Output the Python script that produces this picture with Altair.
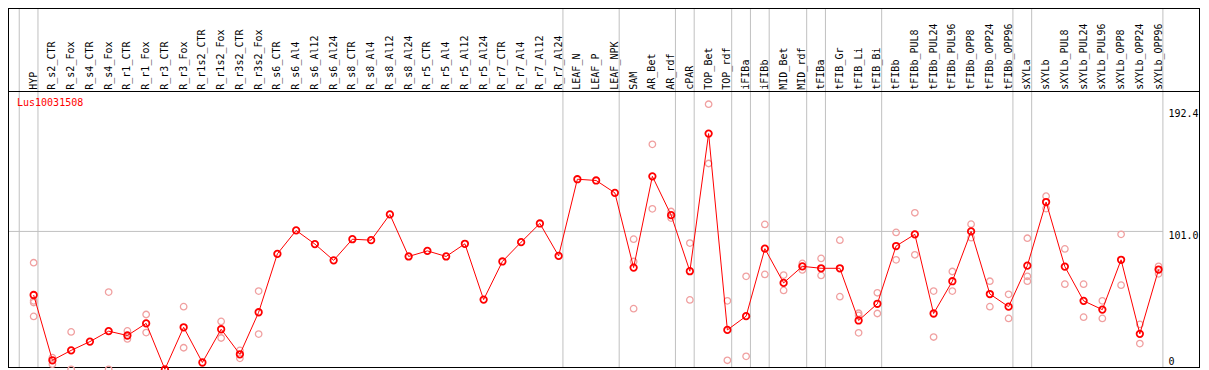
import altair as alt
import pandas as pd

gene = "Lus10031508"

categories = [
    "HYP", "R_s2_CTR", "R_s2_Fox", "R_s4_CTR", "R_s4_Fox", "R_r1_CTR", "R_r1_Fox",
    "R_r3_CTR", "R_r3_Fox", "R_r1s2_CTR", "R_r1s2_Fox", "R_r3s2_CTR", "R_r3s2_Fox",
    "R_s6_CTR", "R_s6_Al4", "R_s6_Al12", "R_s6_Al24", "R_s8_CTR", "R_s8_Al4",
    "R_s8_Al12", "R_s8_Al24", "R_r5_CTR", "R_r5_Al4", "R_r5_Al12", "R_r5_Al24",
    "R_r7_CTR", "R_r7_Al4", "R_r7_Al12", "R_r7_Al24", "LEAF_N", "LEAF_P", "LEAF_NPK",
    "SAM", "AR_Bet", "AR_rdf", "cPAR", "TOP_Bet", "TOP_rdf", "iFIBa", "iFIBb",
    "MID_Bet", "MID_rdf", "tFIBa", "tFIB_Gr", "tFIB_Li", "tFIB_Bi", "tFIBb",
    "tFIBb_PUL8", "tFIBb_PUL24", "tFIBb_PUL96", "tFIBb_OPP8", "tFIBb_OPP24",
    "tFIBb_OPP96", "sXYLa", "sXYLb", "sXYLb_PUL8", "sXYLb_PUL24", "sXYLb_PUL96",
    "sXYLb_OPP8", "sXYLb_OPP24", "sXYLb_OPP96",
]

means = [
    55.3, 8.4, 15.5, 21.8, 29.3, 26.2, 34.9, 1.9, 32.1, 6.8, 30.7, 12.7, 42.9,
    84.9, 101.7, 91.9, 80.2, 95.4, 94.7, 113.2, 83.0, 87.0, 83.0, 92.1, 52.0,
    79.4, 93.3, 106.7, 83.4, 138.5, 137.6, 128.7,
    75.0, 140.6, 112.7, 72.4, 171.3, 30.2, 40.1, 88.6, 64.0, 75.9, 74.5, 74.5,
    37.0, 49.0, 90.5, 98.9, 42.0, 65.2, 101.0, 56.0, 46.9, 76.4, 122.1, 75.7,
    51.1, 44.8, 80.6, 27.4, 73.6,
]

N = None
rep_a = [78.5, 10.3, 28.8, N, 57.4, 29.5, 41.3, N, 46.9, N, 36.3, 15.5, 58.1,
         N, N, N, N, N, N, N, N, N, N, N, N, N, N, N, N, N, N, N,
         95.4, 163.6, 115.3, 92.6, 192.4, 51.1, 68.7, 106.0, 69.6, 78.0, 81.6, 94.7,
         42.2, 56.9, 100.3, 114.4, 58.1, 72.2, 106.2, 65.2, 55.8, 96.1, 126.3, 88.4,
         63.1, 51.1, 98.9, 34.2, 75.9]
rep_b = [51.1, 5.6, 1.9, N, 1.9, 23.7, 28.3, N, 17.4, N, 24.4, 9.8, 27.2,
         N, N, N, N, N, N, N, N, N, N, N, N, N, N, N, N, N, N, N,
         79.4, 117.2, 110.6, 51.8, 149.8, 8.4, 11.2, 70.1, 58.6, 73.3, 69.4, 54.1,
         40.6, 42.0, 80.6, 84.2, 25.1, 58.1, 96.5, 46.9, 38.5, 68.7, 117.4, 63.1,
         39.4, 38.5, 62.4, 20.4, 70.5]
rep_c = [49.9] + [N] * 31 + [45.5] + [N] * 11 + [28.1] + [N] * 8 + [65.2] + [N] * 7
rep_d = [39.9] + [N] * 60

# a separator line is drawn after each of these categories (and before the first)
group_ends = ["HYP", "R_r7_Al24", "LEAF_NPK", "AR_rdf", "cPAR", "TOP_rdf", "iFIBa",
              "iFIBb", "MID_rdf", "tFIBa", "tFIB_Bi", "tFIBb_OPP96", "sXYLa",
              "sXYLb_OPP96"]

tick_labels = ["192.4", "101.0", "0"]
tick_values = [192.4, 101.0, 0.0]

# ---------------------------------------------------------------- tables
W, H = 1193, 362
FONT = "DejaVu Sans Mono"
RED = "#ff0000"
PINK = "#f0a0a0"
GRID = "#c0c0c0"

df = pd.DataFrame({"i": range(len(categories)), "cat": categories, "mean": means})
reps = []
for lst in (rep_a, rep_b, rep_c, rep_d):
    for i, v in enumerate(lst):
        if v is not None:
            reps.append({"i": i, "value": v})
df_rep = pd.DataFrame(reps)

sep_idx = [-1] + [categories.index(c) for c in group_ends]
df_sep = pd.DataFrame({"pos": [k + 0.23 for k in sep_idx]})

xs = alt.Scale(domain=[-1.3684, 62.262], nice=False, zero=False)
ys = alt.Scale(domain=[1.408, 261.55], nice=False, zero=False)

one = pd.DataFrame({"k": [0]})

def hline(y, x1, x2, color="black"):
    return alt.Chart(one).mark_rule(color=color, strokeWidth=1).encode(
        x=alt.value(x1), x2=alt.value(x2), y=alt.value(y))

def vline(x, y1, y2, color="black"):
    return alt.Chart(one).mark_rule(color=color, strokeWidth=1).encode(
        x=alt.value(x), y=alt.value(y1), y2=alt.value(y2))

seps = alt.Chart(df_sep).mark_rule(color=GRID, strokeWidth=1).encode(
    x=alt.X("pos:Q", scale=xs, axis=None), y=alt.value(0), y2=alt.value(360))

grid101 = alt.Chart(one).mark_rule(color=GRID, strokeWidth=1).encode(
    y=alt.YDatum(101.0, scale=ys, axis=None), x=alt.value(1), x2=alt.value(1155))

frame = [
    hline(0.5, 0.5, 1191.5),
    hline(83.5, 0.5, 1191.5),
    hline(359.5, 0.5, 1191.5),
    vline(0.5, 0, 360),
    vline(1191.5, 0, 360),
]

rep_pts = alt.Chart(df_rep).mark_point(
    shape="circle", filled=False, color=PINK, size=42, strokeWidth=1.3, opacity=1
).encode(x=alt.X("i:Q", scale=xs, axis=None), y=alt.Y("value:Q", scale=ys, axis=None))

line = alt.Chart(df).mark_line(color=RED, strokeWidth=1).encode(
    x=alt.X("i:Q", scale=xs, axis=None), y=alt.Y("mean:Q", scale=ys, axis=None))

mean_pts = alt.Chart(df).mark_point(
    shape="circle", filled=False, color=RED, size=42, strokeWidth=1.8, opacity=1
).encode(x=alt.X("i:Q", scale=xs, axis=None), y=alt.Y("mean:Q", scale=ys, axis=None))

cat_labels = alt.Chart(df).mark_text(
    angle=270, align="left", baseline="middle", font=FONT, fontSize=10, color="black"
).encode(x=alt.X("i:Q", scale=xs, axis=None), y=alt.value(81.7), text="cat:N")

title = alt.Chart(pd.DataFrame({"t": [gene]})).mark_text(
    align="left", baseline="alphabetic", font=FONT, fontSize=10, color=RED
).encode(x=alt.value(9), y=alt.value(97.5), text="t:N")

tick_dy = [12.4, 7.5, -7.2]
ticks = []
for lab, val, dy in zip(tick_labels, tick_values, tick_dy):
    ticks.append(
        alt.Chart(pd.DataFrame({"t": [lab], "v": [val]})).mark_text(
            align="left", baseline="alphabetic", font=FONT, fontSize=10,
            color="black", dy=dy
        ).encode(x=alt.value(1160.5), y=alt.Y("v:Q", scale=ys, axis=None), text="t:N")
    )

chart = alt.layer(
    seps, grid101, *frame, rep_pts, line, mean_pts, cat_labels, title, *ticks
).properties(
    width=W, height=H,
    autosize=alt.AutoSizeParams(type="none"),
    padding=0,
    background="white",
).configure_view(stroke=None)

chart.save("out.html", embed_options={"renderer": "svg", "actions": False})
